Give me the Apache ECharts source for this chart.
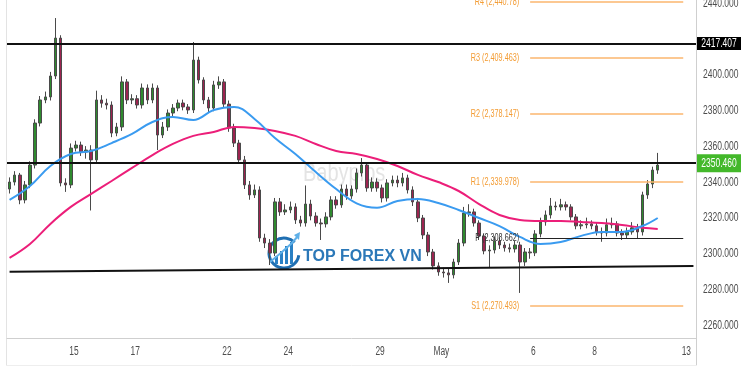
<!DOCTYPE html>
<html><head><meta charset="utf-8">
<script src="https://cdn.jsdelivr.net/npm/echarts@6/dist/echarts.min.js"></script>
<style>html,body{margin:0;padding:0;background:#fff}#c{width:750px;height:375px}</style>
</head><body><div id="c"></div>
<script>
// ---- categories (4-hour bars, trading days) ----
const tradingDays = ['Apr 10','Apr 11','Apr 12','Apr 15','Apr 16','Apr 17','Apr 18','Apr 19','Apr 22','Apr 23','Apr 24','Apr 25','Apr 26','Apr 29','Apr 30','May 1','May 2','May 3','May 6','May 7','May 8','May 9','May 10','May 13'];
const tickLabels = {'Apr 15':'15','Apr 17':'17','Apr 22':'22','Apr 24':'24','Apr 29':'29','May 1':'May','May 6':'6','May 8':'8','May 13':'13'};
const barHours = ['0:00','4:00','8:00','12:00','16:00','20:00'];
const firstSlot = 5, slotCount = 135;

// ---- candles ----
const opens = [2336.0,2339.9,2343.8,2329.9,2338.3,2349.4,2372.9,2385.8,2387.5,2399.2,2420.4,2339.4,2338.3,2358.9,2360.6,2356.7,2357.8,2352.3,2385.8,2384.0,2383.0,2367.3,2370.7,2395.9,2385.8,2386.5,2383.0,2392.5,2385.8,2392.5,2366.2,2370.7,2378.5,2381.3,2384.1,2381.9,2380.2,2408.1,2397.0,2385.8,2381.3,2394.2,2395.9,2383.5,2370.1,2361.7,2352.3,2338.3,2332.7,2335.5,2308.6,2305.8,2300.2,2328.8,2323.2,2324.3,2326.0,2318.7,2317.0,2327.6,2320.9,2317.0,2316.5,2320.4,2329.9,2327.1,2336.0,2332.1,2336.0,2345.0,2349.4,2336.6,2339.9,2336.6,2331.0,2339.4,2341.0,2339.4,2342.2,2335.5,2328.8,2319.8,2310.3,2300.8,2293.0,2289.6,2289.1,2288.0,2295.2,2305.8,2322.6,2323.2,2317.0,2309.7,2301.4,2301.9,2307.0,2304.7,2303.1,2302.5,2304.7,2295.2,2300.8,2300.3,2310.9,2317.6,2321.5,2326.5,2326.0,2327.2,2326.0,2320.4,2315.4,2316.0,2316.5,2315.4,2312.0,2311.4,2316.0,2316.5,2311.4,2310.3,2312.0,2314.3,2312.0,2332.7,2338.8,2346.6];
const closes = [2339.9,2343.8,2329.9,2338.3,2349.4,2372.9,2385.8,2387.5,2399.2,2420.4,2339.4,2338.3,2358.9,2360.6,2356.7,2357.8,2352.3,2385.8,2384.0,2383.0,2367.3,2370.7,2395.9,2385.8,2386.5,2383.0,2392.5,2385.8,2392.5,2366.2,2370.7,2378.5,2381.3,2384.1,2381.9,2380.2,2408.1,2397.0,2385.8,2381.3,2394.2,2395.9,2383.5,2370.1,2361.7,2352.3,2338.3,2332.7,2335.5,2308.6,2305.8,2300.2,2328.8,2323.2,2324.3,2326.0,2318.7,2317.0,2327.6,2320.9,2317.0,2316.5,2320.4,2329.9,2327.1,2336.0,2332.1,2336.0,2345.0,2349.4,2336.6,2339.9,2336.6,2331.0,2339.4,2341.0,2339.4,2342.2,2335.5,2328.8,2319.8,2310.3,2300.8,2293.0,2289.6,2289.1,2288.0,2295.2,2305.8,2322.6,2323.2,2317.0,2309.7,2301.4,2301.9,2307.0,2304.7,2303.1,2302.5,2304.7,2295.2,2300.8,2300.3,2310.9,2317.6,2321.5,2326.5,2326.0,2327.2,2326.0,2320.4,2315.4,2316.0,2316.5,2315.4,2312.0,2311.4,2316.0,2316.5,2311.4,2310.3,2312.0,2314.3,2312.0,2332.7,2338.8,2346.6,2349.4];
const lows = [2333.5,2338.0,2327.5,2328.0,2336.5,2347.5,2371.0,2384.0,2385.5,2397.5,2337.5,2334.4,2336.5,2357.0,2354.5,2353.0,2324.0,2350.5,2381.5,2380.5,2365.0,2365.5,2368.5,2383.5,2383.5,2381.0,2381.0,2383.5,2384.0,2357.8,2364.5,2368.5,2376.5,2379.5,2380.0,2378.0,2378.5,2395.0,2383.5,2379.0,2379.5,2392.0,2381.5,2368.0,2359.5,2350.0,2336.0,2330.0,2331.0,2306.5,2303.0,2293.5,2298.5,2321.0,2321.5,2322.5,2316.5,2315.0,2315.0,2318.5,2315.0,2307.5,2314.5,2318.5,2325.0,2325.5,2330.0,2330.5,2334.0,2343.0,2334.5,2334.5,2334.5,2328.5,2329.0,2337.5,2337.0,2337.5,2333.5,2326.5,2317.5,2308.0,2298.5,2291.0,2287.5,2286.5,2283.5,2286.0,2293.5,2304.0,2320.5,2315.0,2307.5,2299.5,2291.9,2300.0,2302.5,2301.0,2300.5,2300.5,2277.9,2293.0,2297.0,2298.5,2309.0,2315.5,2319.5,2324.0,2324.0,2324.0,2318.5,2313.5,2313.5,2314.0,2313.5,2310.0,2306.5,2309.5,2314.0,2309.5,2307.5,2308.5,2310.5,2308.5,2310.0,2330.5,2336.5,2344.5];
const highs = [2342.5,2346.0,2345.0,2340.5,2351.5,2375.0,2388.0,2390.5,2401.5,2431.6,2422.0,2342.0,2361.5,2363.0,2362.5,2360.0,2360.5,2391.0,2388.5,2386.5,2385.0,2373.0,2399.0,2397.5,2389.0,2388.5,2395.0,2394.5,2395.0,2394.0,2373.5,2380.5,2383.5,2386.0,2386.0,2383.5,2418.2,2410.0,2398.5,2387.5,2396.5,2399.0,2397.5,2385.5,2372.5,2363.5,2354.5,2340.5,2338.5,2337.5,2311.0,2308.0,2331.0,2331.0,2327.5,2329.0,2328.0,2321.0,2338.0,2330.0,2323.0,2319.5,2323.0,2332.0,2332.0,2338.5,2338.5,2338.0,2347.5,2353.3,2351.0,2342.5,2342.0,2338.5,2341.5,2343.5,2343.5,2345.0,2344.0,2337.5,2331.0,2321.5,2312.0,2302.5,2295.0,2292.0,2291.5,2297.0,2308.0,2326.0,2327.5,2325.0,2318.5,2311.0,2304.5,2309.5,2309.0,2306.5,2305.5,2307.0,2306.5,2303.0,2303.0,2313.0,2320.0,2324.0,2331.0,2329.0,2330.5,2329.0,2327.5,2322.0,2318.5,2320.0,2318.5,2317.0,2314.5,2319.5,2320.0,2318.0,2313.5,2314.5,2317.5,2316.5,2334.5,2341.0,2348.5,2356.2];

// ---- moving averages (read at sampled bars) ----
const maSlots = [0,4,8,12,16,20,24,28,32,36,40,44,48,52,56,60,64,68,72,76,80,84,88,92,96,100,104,108,112,116,120,124,127];
const blueMA = [2329.9,2337.7,2348.9,2355.6,2357.3,2361.7,2366.8,2373.5,2376.3,2374.6,2380.2,2381.9,2375.2,2364.5,2355.6,2345.5,2336.0,2328.0,2325.5,2329.3,2330.4,2328.2,2324.3,2319.8,2315.3,2309.2,2305.3,2306.4,2309.8,2312.0,2312.0,2315.3,2319.8];
const pinkMA = [2297.5,2305.3,2316.5,2326.0,2333.3,2340.5,2347.8,2355.0,2361.2,2365.7,2367.9,2370.7,2370.1,2368.5,2365.7,2361.2,2357.3,2355.6,2352.8,2348.9,2343.9,2339.9,2334.9,2327.6,2321.5,2318.7,2318.1,2318.1,2317.6,2317.0,2315.9,2314.3,2313.7];

// ---- levels ----
const pivotNames = ['R4','R3','R2','R1','P','S1'];
const pivotValues = [2440.78, 2409.463, 2378.147, 2339.978, 2308.662, 2270.493];
const pivotLabels = ['R4 (2,440.78)','R3 (2,409.463)','R2 (2,378.147)','R1 (2,339.978)','P (2,308.662)','S1 (2,270.493)'];
const pivotStartSlot = 102, pivotEndSlot = 132;
const resistanceLevels = [2417.407, 2350.460];
const supportTrend = [[0, 2289.8], [134, 2293.0]];
const yTicks = [2260,2280,2300,2320,2340,2360,2380,2400,2440];

// ---- build ----
const allCats = [];
tradingDays.forEach(d => barHours.forEach(h => allCats.push(d + ' ' + h)));
const categories = allCats.slice(firstSlot, firstSlot + slotCount);
const candleData = closes.map((c, i) => [opens[i], c, lows[i], highs[i]]);
const blueData = maSlots.map((s, i) => [s, blueMA[i]]);
const pinkData = maSlots.map((s, i) => [s, pinkMA[i]]);

const FONT = "'Liberation Sans',Arial,sans-serif";

const pivotLines = pivotValues.map((v, i) => {
  const isP = pivotNames[i] === 'P';
  return [
    {coord: [pivotStartSlot, v],
     lineStyle: {color: isP ? '#222' : '#fbb66e', width: isP ? 1 : 1.5, type: 'solid'}},
    {coord: [pivotEndSlot, v]}
  ];
});
const resLines = resistanceLevels.map(v => ({
  yAxis: v, lineStyle: {color: '#111', width: 2, type: 'solid'}
}));
const trendLine = [
  {coord: supportTrend[0], lineStyle: {color: '#111', width: 2, type: 'solid'}},
  {coord: supportTrend[1]}
];

const chart = echarts.init(document.getElementById('c'), null, {renderer: 'canvas'});
chart.setOption({
  animation: false,
  backgroundColor: '#fff',
  grid: {left: 7, right: 54, top: 0, bottom: 37, containLabel: false},
  xAxis: {
    type: 'category', data: categories, boundaryGap: true,
    axisLine: {show: true, lineStyle: {color: '#cfcfcf'}},
    axisTick: {show: false}, splitLine: {show: false},
    axisLabel: {show: false}
  },
  yAxis: {
    type: 'value', position: 'right', min: 2252.7, max: 2441.7, scale: true,
    splitLine: {show: false},
    axisLine: {show: true, lineStyle: {color: '#cfcfcf'}},
    axisTick: {show: false},
    axisLabel: {show: false}
  },
  series: [
    {
      type: 'candlestick', data: candleData, barWidth: 3,
      itemStyle: {color: '#2f8a2f', color0: '#9c2450', borderColor: '#4a4a4a', borderColor0: '#4a4a4a', borderWidth: 1},
      z: 3
    },
    {type: 'line', data: pinkData, smooth: 0.4, showSymbol: false,
     lineStyle: {color: '#ec1e79', width: 2}, z: 4},
    {type: 'line', data: blueData, smooth: 0.4, showSymbol: false,
     lineStyle: {color: '#3a9bf0', width: 2}, z: 4},
    {type: 'line', data: [], z: 6, silent: true,
     markLine: {silent: true, symbol: ['none', 'none'], animation: false, label: {show: false},
                data: [...resLines, trendLine, ...pivotLines]}}
  ]
});

// ---- condensed text (real text, positioned via the chart's own scales) ----
const SX = 0.63;
const px = i => chart.convertToPixel({xAxisIndex: 0}, i);
const py = v => chart.convertToPixel({yAxisIndex: 0}, v);
const g = [];
g.push({type: 'line', shape: {x1: 6.5, y1: 0, x2: 6.5, y2: 365}, style: {stroke: '#e3e3e3', lineWidth: 1}, silent: true});
g.push({type: 'line', shape: {x1: 6, y1: 365.5, x2: 697, y2: 365.5}, style: {stroke: '#eeeeee', lineWidth: 1}, silent: true});
g.push({type: 'line', shape: {x1: 696.5, y1: 338, x2: 696.5, y2: 365}, style: {stroke: '#cfcfcf', lineWidth: 1}, silent: true});
// watermark
g.push({type: 'text', x: 303, y: 174, z: -10, silent: true, scaleX: 0.8,
  style: {text: 'Babypips', fontSize: 25, fontFamily: FONT, fill: '#e4e4e4', textVerticalAlign: 'middle'}});
// y tick labels
yTicks.forEach(v => g.push({type: 'text', x: 703, y: py(v), scaleX: SX, silent: true,
  style: {text: v.toFixed(3), fontSize: 13.5, fontFamily: FONT, fill: '#4d4d4d', textVerticalAlign: 'middle'}}));
// x tick labels
categories.forEach((c, i) => {
  const day = c.slice(0, c.lastIndexOf(' '));
  if (c.endsWith(' 0:00') && tickLabels[day] !== undefined) {
    g.push({type: 'text', x: px(i) - 2, y: 352, scaleX: 0.7, silent: true,
      style: {text: tickLabels[day], fontSize: 12, fontFamily: FONT, fill: '#4d4d4d', textAlign: 'center', textVerticalAlign: 'middle'}});
  }
});
// price boxes at right
resistanceLevels.forEach((v, i) => {
  const y = py(v), h = i === 0 ? 13 : 18;
  g.push({type: 'rect', shape: {x: 697, y: y - h / 2, width: 44, height: h}, z: 20, silent: true,
    style: {fill: i === 0 ? '#000' : '#43b82a'}});
  g.push({type: 'text', x: 719, y: y, scaleX: SX, z: 21, silent: true,
    style: {text: v.toFixed(3), fontSize: 13.5, fontFamily: FONT, fill: '#fff', textAlign: 'center', textVerticalAlign: 'middle'}});
});
// pivot labels
pivotValues.forEach((v, i) => {
  const isP = pivotNames[i] === 'P';
  g.push({type: 'text', x: px(pivotStartSlot) - 11, y: py(v), scaleX: SX, z: 20, silent: true,
    style: {text: pivotLabels[i], fontSize: 11.5, fontFamily: FONT, fill: isP ? '#333' : '#f39c34',
            textAlign: 'right', textVerticalAlign: 'middle'}});
});
// logo
g.push({type: 'group', silent: true, z: 30, children: [
  {type: 'arc', shape: {cx: 284, cy: 253, r: 15, startAngle: Math.PI * 0.05, endAngle: Math.PI * 1.75},
   style: {stroke: '#1f6fb2', lineWidth: 3, fill: 'none'}},
  {type: 'rect', shape: {x: 275, y: 256, width: 3, height: 8}, style: {fill: '#2a80c4'}},
  {type: 'rect', shape: {x: 280, y: 251, width: 3, height: 13}, style: {fill: '#2a80c4'}},
  {type: 'rect', shape: {x: 285, y: 246, width: 3, height: 18}, style: {fill: '#2a80c4'}},
  {type: 'rect', shape: {x: 290, y: 242, width: 3, height: 22}, style: {fill: '#2a80c4'}},
  {type: 'polyline', shape: {points: [[270, 262], [282, 252], [292, 243], [298, 236]]},
   style: {stroke: '#5fb0e8', lineWidth: 2, fill: 'none'}},
  {type: 'polygon', shape: {points: [[300, 232], [294, 235], [299, 240]]}, style: {fill: '#5fb0e8'}},
  {type: 'text', x: 303, y: 257, style: {text: 'TOP FOREX VN', fontSize: 16, fontWeight: 'bold',
    fontFamily: FONT, fill: '#2b78b8', textVerticalAlign: 'middle'}}
]});
chart.setOption({graphic: g});
</script></body></html>
